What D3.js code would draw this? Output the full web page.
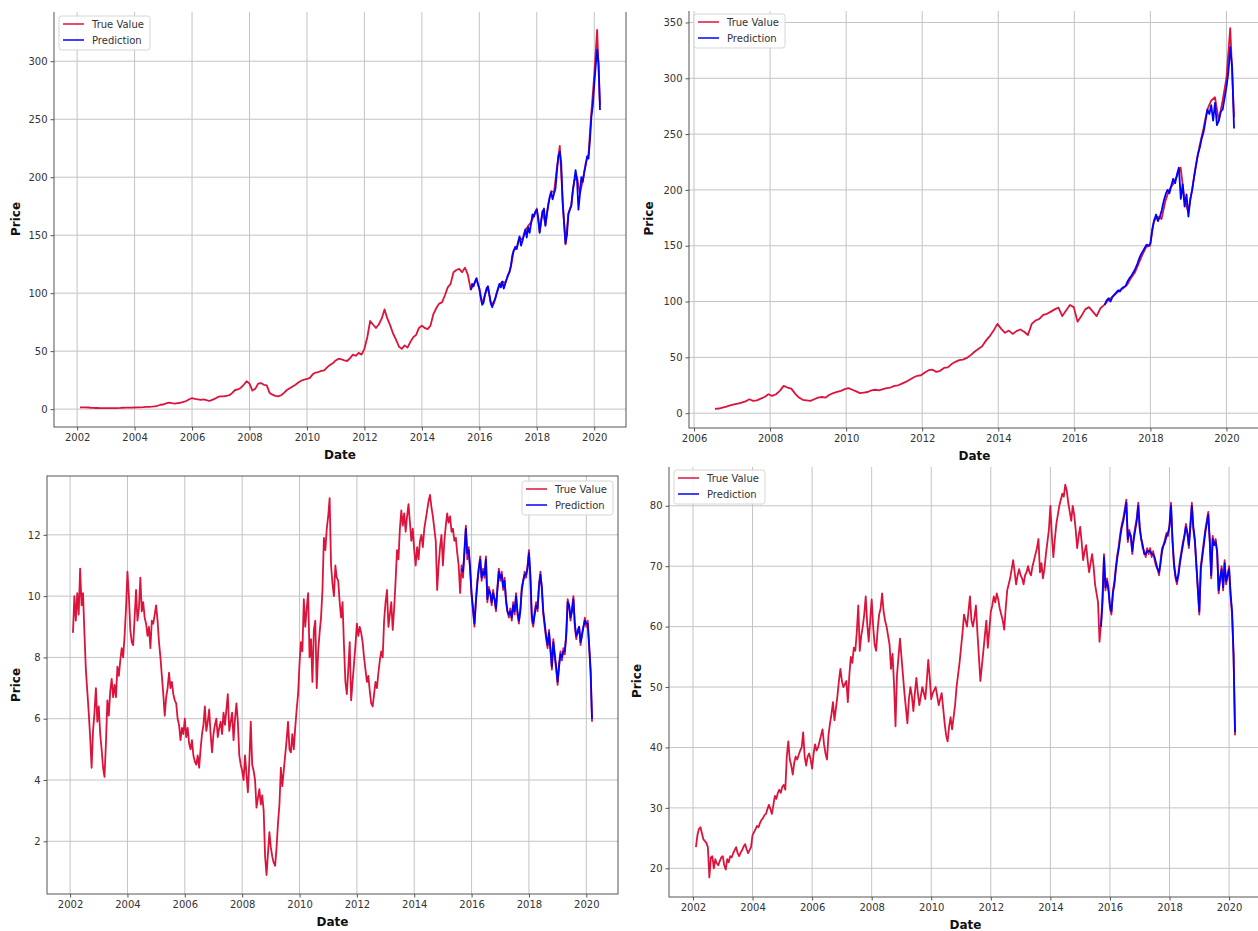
<!DOCTYPE html>
<html>
<head>
<meta charset="utf-8">
<script src="https://cdn.jsdelivr.net/npm/d3@7"></script>
<style>
  html, body { margin: 0; padding: 0; background: #fff; }
  svg { display: block; font-family: "DejaVu Sans", "Liberation Sans", sans-serif; }
</style>
</head>
<body>
<svg id="chart" width="1258" height="931"></svg>
<script>
// ---------------------------------------------------------------------------
// Price series (closing prices) and model predictions for four stocks.
// Each series is sampled on an even grid between its start and end year.
// ---------------------------------------------------------------------------

// Stock A: true prices 2002.1 -> 2020.2 (step 0.1 yr)
const aTrueSpan = [2002.1, 2020.2];
const aTrue = [
  1.5,1.6,1.5,1.4,1.1,1.0,1.0,0.9,0.9,0.9,
  0.9,0.9,0.9,0.9,1.0,1.2,1.3,1.3,1.3,1.4,
  1.5,1.6,1.7,1.9,2.0,2.1,2.4,2.9,3.8,4.0,
  5.0,5.6,5.1,4.8,5.2,5.5,6.2,7.0,8.5,9.5,
  8.8,8.4,8.0,8.5,7.8,7.0,8.0,9.0,10.5,11.0,
  11.0,11.5,12.0,14.0,16.5,17.0,18.5,21.0,24.0,22.0,
  16.0,17.5,22.0,22.5,21.0,20.5,14.0,12.5,11.5,11.0,
  12.0,14.0,16.5,18.0,19.5,21.0,23.0,24.5,25.5,26.0,
  27.0,30.0,31.5,32.0,33.0,33.5,36.0,38.0,39.5,42.0,
  43.5,43.0,42.0,41.5,44.0,47.0,46.0,48.5,47.0,52.0,
  62.0,76.0,73.0,70.0,73.0,78.0,86.0,78.0,72.0,65.0,
  60.0,54.0,52.0,55.0,53.0,58.0,62.0,64.0,70.0,72.0,
  70.0,69.0,72.0,82.0,87.0,91.0,92.0,98.0,105.0,108.0,
  118.0,120.0,121.0,118.0,122.0,116.0,103.0,107.0,112.0,104.0,
  91.0,99.0,105.0,92.0,91.0,99.0,107.0,110.0,109.0,115.0,
  123.0,137.0,139.0,148.0,146.0,154.0,158.0,161.0,167.0,173.0,
  153.0,171.0,159.0,177.0,188.0,187.0,208.0,227.0,180.0,142.0,
  169.0,176.0,197.0,200.0,186.0,197.0,212.0,220.0,256.0,288.0,
  327.0,262.0
];
// Stock A: predictions 2015.7 -> 2020.2 (step 0.05 yr)
const aPredSpan = [2015.7, 2020.2];
const aPred = [
  103,108,106,110,113,108,104,96,90,92,
  99,104,106,98,91,88,92,95,100,104,
  108,105,110,104,108,112,116,118,124,133,
  137,140,138,144,149,141,145,150,155,148,
  157,152,160,168,166,170,172,165,152,162,
  170,173,158,168,176,183,187,181,186,190,
  205,218,222,212,178,160,143,150,168,172,
  175,188,196,206,198,172,185,200,196,204,
  210,218,216,232,252,262,280,296,310,298,
  258
];

// Stock B: true prices 2006.55 -> 2020.2 (step ~0.1 yr)
const bTrueSpan = [2006.55, 2020.2];
const bTrue = [
  3.8,4.2,5.0,5.8,7.0,
  8.0,8.5,9.5,10.5,12.5,11.0,11.5,13.0,14.5,17.0,
  15.5,17.0,20.0,24.5,23.0,22.0,17.5,14.0,12.0,11.5,
  11.0,12.5,14.0,14.5,14.0,16.5,18.0,19.0,20.0,21.5,
  22.5,21.0,19.5,18.0,18.5,19.0,20.5,21.0,20.5,21.5,
  22.5,23.0,24.5,25.0,26.5,28.0,30.0,32.0,33.5,34.0,
  36.5,38.5,39.0,37.0,38.0,40.5,41.0,44.0,46.0,47.5,
  48.0,49.5,52.0,55.0,57.5,60.0,65.0,69.0,74.0,80.0,
  75.5,72.0,74.0,71.0,73.5,75.0,73.0,70.0,80.0,83.0,
  84.5,88.0,89.0,91.0,93.0,94.5,87.0,92.0,97.0,95.0,
  82.0,87.0,93.0,95.0,91.0,87.0,94.0,97.0,101.0,104.0,
  107.0,110.0,112.0,115.0,121.0,126.0,134.0,142.0,149.0,150.0,
  172.0,176.0,174.0,190.0,200.0,205.0,212.0,220.0,192.0,180.0,
  200.0,222.0,240.0,255.0,272.0,280.0,283.0,262.0,280.0,300.0,
  345.0,265.0
];
// Stock B: predictions 2016.8 -> 2020.2 (step 0.05 yr)
const bPredSpan = [2016.8, 2020.2];
const bPred = [
  97,101,103,100,104,106,108,110,109,112,
  113,114,118,121,123,126,129,133,138,142,
  145,148,151,150,152,165,173,178,172,176,
  182,190,196,200,197,204,210,206,214,220,
  192,205,185,196,176,192,200,212,222,232,
  238,246,252,262,272,268,276,262,278,258,
  262,270,272,282,292,305,328,310,255
];

// Stock C: true prices 2002.1 -> 2020.2 (step 0.05 yr)
const cTrueSpan = [2002.1, 2020.2];
const cTrue = [
  8.8,10.0,9.2,10.1,9.4,10.9,9.7,10.1,8.8,7.6,6.9,6.2,5.4,4.4,5.6,6.2,7.0,5.9,
  6.4,5.5,5.0,4.4,4.1,5.2,6.6,6.1,6.9,7.3,6.7,7.1,6.7,7.7,7.4,7.9,8.3,8.0,8.7,9.6,
  10.8,10.0,8.9,8.5,8.4,9.3,10.2,9.2,9.6,10.6,9.5,9.8,9.3,9.1,8.7,9.0,8.3,9.2,9.1,9.4,
  9.7,9.2,8.5,8.0,7.4,6.8,6.1,6.7,7.0,7.5,7.0,7.2,6.8,6.6,6.5,6.0,5.8,5.3,5.7,5.5,
  6.0,5.4,5.7,5.2,5.0,5.3,4.8,4.6,4.5,4.8,4.4,5.0,5.5,5.8,6.4,5.6,5.9,6.3,5.5,4.9,
  5.5,5.8,6.0,5.4,5.7,5.9,5.5,6.2,5.8,6.3,6.8,5.6,5.9,6.2,5.3,6.0,6.5,5.9,4.8,4.5,
  4.3,4.0,4.8,4.2,3.6,4.6,5.9,4.5,4.3,4.0,3.1,3.4,3.7,3.2,3.5,3.0,1.5,0.9,1.6,2.3,
  1.8,1.5,1.3,1.2,1.8,2.6,3.2,4.4,3.8,4.3,4.8,5.3,5.9,5.0,4.9,5.5,5.0,5.7,6.3,6.8,
  7.8,8.5,8.2,9.9,9.0,9.6,10.1,8.0,8.6,7.2,8.9,9.2,7.0,8.2,8.8,9.3,10.2,11.9,11.5,12.2,
  12.6,13.2,11.0,10.4,10.0,11.0,10.6,10.5,9.8,9.3,9.8,8.4,7.2,6.8,7.6,8.5,6.6,7.2,7.8,8.4,
  9.1,8.7,9.0,8.8,8.5,8.0,7.6,7.2,7.4,6.9,6.5,6.4,6.8,7.2,7.0,7.5,7.9,8.2,8.0,9.2,
  9.8,10.2,9.0,9.4,9.8,8.9,9.6,10.5,11.5,11.2,12.2,12.8,12.3,12.7,12.1,12.6,13.0,12.4,11.8,12.2,
  11.5,11.0,11.6,11.2,11.8,12.0,11.6,12.2,12.5,12.8,13.1,13.3,12.9,12.6,12.2,11.8,10.2,11.0,11.6,12.0,
  11.0,11.8,12.3,12.7,12.4,12.6,12.1,12.2,11.8,11.9,11.4,11.0,10.1,11.0,10.6,11.5,12.3,11.2,11.6,10.8,
  10.0,9.5,9.0,9.9,10.5,10.9,11.3,10.5,10.9,10.6,11.3,9.8,10.3,10.1,9.7,10.2,9.9,9.5,10.3,10.9,
  10.5,10.8,10.2,10.6,9.8,9.5,9.3,9.6,9.2,9.8,9.4,10.1,9.4,9.1,9.6,10.3,10.5,10.8,10.6,11.0,
  11.5,10.5,9.2,9.0,9.5,9.8,9.5,10.4,10.8,10.2,9.4,9.0,8.6,8.3,8.9,8.2,7.6,8.6,8.0,7.6,
  7.1,7.8,8.2,7.9,8.3,8.1,8.8,9.9,9.7,9.2,9.6,10.0,9.0,8.6,8.9,9.0,8.4,8.8,9.0,9.3,
  9.0,9.2,8.3,7.5,5.9
];
// Stock C: predictions 2015.65 -> 2020.2 (step 0.05 yr)
const cPredSpan = [2015.65, 2020.2];
const cPred = [
  10.9,10.8,11.4,12.2,11.4,11.5,10.9,
  10.1,9.6,9.1,9.8,10.4,10.9,11.2,10.6,10.8,10.7,11.2,9.9,10.2,10.1,9.8,10.1,9.9,9.6,10.2,10.8,
  10.6,10.7,10.3,10.5,9.9,9.5,9.4,9.5,9.3,9.7,9.5,10.0,9.5,9.2,9.5,10.2,10.5,10.7,10.7,10.9,
  11.4,10.7,9.4,9.1,9.4,9.7,9.6,10.3,10.7,10.3,9.5,9.1,8.7,8.4,8.8,8.3,7.7,8.5,8.1,7.7,
  7.2,7.7,8.1,8.0,8.2,8.2,8.7,9.8,9.7,9.3,9.5,9.9,9.1,8.7,8.8,9.0,8.5,8.7,9.0,9.2,
  9.1,9.1,8.4,7.6,6.0
];

// Stock D: true prices 2002.1 -> 2020.2 (step 0.05 yr)
const dTrueSpan = [2002.1, 2020.2];
const dTrue = [
  23.5,25.5,26.5,26.8,25.8,24.8,24.5,24.2,23.5,18.5,21.8,22.0,20.0,21.5,20.8,20.5,21.2,21.8,
  22.0,20.5,19.8,21.5,21.0,22.0,21.8,22.5,23.0,23.5,22.5,22.0,22.6,23.0,23.6,24.0,23.2,22.5,23.0,23.5,
  25.5,26.0,26.5,27.0,26.8,27.5,28.0,28.3,28.8,29.0,29.8,30.5,29.8,29.0,30.5,32.0,31.5,32.5,33.0,32.5,
  33.5,33.8,33.0,38.5,41.0,38.0,37.0,35.5,37.5,38.5,38.0,38.8,39.5,40.0,42.5,38.5,37.0,38.5,39.0,38.0,
  36.5,39.0,40.5,39.5,40.0,41.0,42.0,43.0,40.5,39.0,38.0,42.0,44.0,45.5,47.5,44.5,46.5,48.5,51.0,53.0,
  51.0,50.0,50.5,51.0,47.5,52.0,55.0,54.0,56.5,56.0,59.0,63.5,56.0,58.5,60.0,62.0,65.0,60.5,57.5,61.0,
  64.5,60.0,57.0,56.0,59.5,62.0,63.0,65.5,62.5,61.0,60.0,58.5,57.0,53.0,55.5,50.5,43.5,52.0,55.0,58.0,
  55.0,52.0,49.0,46.5,44.0,48.0,50.0,48.5,46.0,49.0,51.5,49.0,47.0,48.5,50.0,49.0,48.0,51.0,54.5,51.5,
  48.0,49.0,49.5,50.0,48.5,47.0,48.0,49.0,46.5,44.0,42.0,41.0,43.5,45.0,43.0,45.0,47.0,50.0,52.0,54.0,
  56.5,59.0,62.0,61.0,60.0,62.5,65.0,61.0,60.0,61.5,63.5,59.0,55.0,51.0,53.5,56.0,58.5,61.0,56.5,59.5,
  62.5,63.5,65.0,64.0,65.5,64.5,63.0,62.0,61.0,59.5,63.0,66.0,67.0,68.0,69.5,71.0,69.0,67.0,68.5,69.5,
  68.5,68.0,67.0,68.5,69.0,70.0,69.0,68.5,70.0,71.0,72.0,73.0,74.5,69.0,70.5,68.0,69.5,72.0,74.0,76.0,
  80.0,75.0,71.5,74.5,77.0,78.5,80.0,81.0,82.0,81.5,83.5,82.5,80.5,79.0,77.5,80.0,78.5,76.0,73.0,75.0,
  76.5,74.0,71.0,72.5,73.5,71.0,69.0,70.5,72.0,70.0,67.0,65.5,64.0,57.5,60.5,65.0,72.0,66.0,68.0,66.5,
  63.0,62.0,66.0,67.5,70.0,72.0,73.5,75.5,77.0,78.0,79.5,81.0,74.0,76.0,75.0,72.0,75.0,76.5,78.0,80.5,
  76.0,74.5,73.0,72.5,71.5,73.0,72.0,73.0,71.5,72.5,71.0,70.0,69.5,68.5,71.0,73.0,73.5,74.5,75.5,75.0,
  77.0,80.5,74.0,70.0,68.0,67.0,69.0,71.0,72.5,74.0,75.0,77.0,75.5,73.0,77.0,80.5,76.0,74.0,70.0,66.0,
  62.0,70.0,72.0,74.0,76.0,77.5,79.0,74.0,68.0,75.0,73.5,74.5,72.0,65.5,68.0,70.0,66.0,71.0,67.0,68.5,
  70.0,65.0,62.0,55.0,42.0
];
// Stock D: predictions 2015.7 -> 2020.2 (step 0.05 yr)
const dPredSpan = [2015.7, 2020.2];
const dPred = [
  60.0,64.0,71.5,66.5,67.5,66.0,
  63.5,62.5,65.5,67.0,69.5,71.5,73.0,75.0,76.5,77.5,79.0,80.5,74.5,75.5,75.0,72.5,74.5,76.0,77.5,80.0,
  76.5,74.5,73.5,72.0,72.0,72.5,72.5,72.5,72.0,72.0,71.5,70.5,69.5,69.0,70.5,72.5,73.5,74.0,75.0,75.5,
  76.5,80.0,74.5,70.5,68.5,67.5,68.5,70.5,72.0,73.5,75.0,76.5,75.5,73.5,76.5,80.0,76.5,74.5,70.5,66.5,
  62.5,69.5,71.5,73.5,75.5,77.0,78.5,74.5,68.5,74.5,73.5,74.0,72.5,66.0,68.0,69.5,66.5,70.5,67.5,68.5,
  69.5,65.5,62.5,55.5,42.5
];

// Tick values
const yearTicksFrom2002 = [2002, 2004, 2006, 2008, 2010, 2012, 2014, 2016, 2018, 2020];
const yearTicksFrom2006 = [2006, 2008, 2010, 2012, 2014, 2016, 2018, 2020];
const aPriceTicks = [0, 50, 100, 150, 200, 250, 300];
const bPriceTicks = [0, 50, 100, 150, 200, 250, 300, 350];
const cPriceTicks = [2, 4, 6, 8, 10, 12];
const dPriceTicks = [20, 30, 40, 50, 60, 70, 80];

const legendLabels = ["True Value", "Prediction"];
const axisTitles = { x: "Date", y: "Price" };

// ---------------------------------------------------------------------------
// Layout: each panel sits in its own tile; axes rectangles may run past the tile.
// ---------------------------------------------------------------------------
const COLORS = { truth: "#dc143c", pred: "#0000ff", grid: "#c4c4c4", spine: "#555", tick: "#333" };

const panels = [
  { id: "pa", truth: aTrue, truthSpan: aTrueSpan, pred: aPred, predSpan: aPredSpan,
    xTicks: yearTicksFrom2002, yTicks: aPriceTicks,
    tile: { x0: 0, y0: 12, x1: 629, y1: 463 },
    axes: { left: 54, right: 626, top: 11, bottom: 427 },
    legend: "left", yTitleX: 16 },
  { id: "pb", truth: bTrue, truthSpan: bTrueSpan, pred: bPred, predSpan: bPredSpan,
    xTicks: yearTicksFrom2006, yTicks: bPriceTicks,
    tile: { x0: 629, y0: 11, x1: 1258, y1: 462 },
    axes: { left: 689, right: 1260, top: 9, bottom: 428 },
    legend: "left", yTitleX: 649 },
  { id: "pc", truth: cTrue, truthSpan: cTrueSpan, pred: cPred, predSpan: cPredSpan,
    xTicks: yearTicksFrom2002, yTicks: cPriceTicks,
    tile: { x0: 0, y0: 466, x1: 629, y1: 931 },
    axes: { left: 47, right: 618, top: 476, bottom: 894 },
    legend: "right", yTitleX: 16 },
  { id: "pd", truth: dTrue, truthSpan: dTrueSpan, pred: dPred, predSpan: dPredSpan,
    xTicks: yearTicksFrom2002, yTicks: dPriceTicks,
    tile: { x0: 629, y0: 467, x1: 1258, y1: 931 },
    axes: { left: 669, right: 1262, top: 465, bottom: 897 },
    legend: "left", yTitleX: 637 }
];

const svg = d3.select("#chart");
const defs = svg.append("defs");

// Spread a value list evenly over its time span.
function toPoints(values, span) {
  const [t0, t1] = span;
  const n = values.length - 1;
  return values.map((v, i) => ({ t: t0 + (t1 - t0) * i / n, v }));
}

// Extent with 5% margins on each side.
function padded(lo, hi) {
  const m = (hi - lo) * 0.05;
  return [lo - m, hi + m];
}

function drawPanel(p) {
  const truthPts = toPoints(p.truth, p.truthSpan);
  const predPts = toPoints(p.pred, p.predSpan);
  const all = truthPts.concat(predPts);

  const x = d3.scaleLinear()
    .domain(padded(d3.min(all, d => d.t), d3.max(all, d => d.t)))
    .range([p.axes.left, p.axes.right]);
  const y = d3.scaleLinear()
    .domain(padded(d3.min(all, d => d.v), d3.max(all, d => d.v)))
    .range([p.axes.bottom, p.axes.top]);

  defs.append("clipPath").attr("id", p.id + "-tile")
    .append("rect")
    .attr("x", p.tile.x0).attr("y", p.tile.y0)
    .attr("width", p.tile.x1 - p.tile.x0).attr("height", p.tile.y1 - p.tile.y0);

  const g = svg.append("g").attr("clip-path", `url(#${p.id}-tile)`);
  const a = p.axes;

  // Grid
  const grid = g.append("g").attr("stroke", COLORS.grid).attr("stroke-width", 1);
  grid.selectAll("line.vx").data(p.xTicks).join("line")
    .attr("class", "vx")
    .attr("x1", d => x(d)).attr("x2", d => x(d))
    .attr("y1", a.top).attr("y2", a.bottom);
  grid.selectAll("line.hy").data(p.yTicks).join("line")
    .attr("class", "hy")
    .attr("x1", a.left).attr("x2", a.right)
    .attr("y1", d => y(d)).attr("y2", d => y(d));

  // Series
  const line = d3.line().x(d => x(d.t)).y(d => y(d.v));
  g.append("path").datum(truthPts)
    .attr("d", line).attr("fill", "none")
    .attr("stroke", COLORS.truth).attr("stroke-width", 1.8)
    .attr("stroke-linejoin", "round");
  g.append("path").datum(predPts)
    .attr("d", line).attr("fill", "none")
    .attr("stroke", COLORS.pred).attr("stroke-width", 1.8)
    .attr("stroke-linejoin", "round");

  // Spines
  g.append("rect")
    .attr("x", a.left).attr("y", a.top)
    .attr("width", a.right - a.left).attr("height", a.bottom - a.top)
    .attr("fill", "none").attr("stroke", COLORS.spine).attr("stroke-width", 1);

  // Axes
  const xAxis = d3.axisBottom(x).tickValues(p.xTicks).tickFormat(d3.format("d"))
    .tickSize(3.5).tickPadding(3);
  const yAxis = d3.axisLeft(y).tickValues(p.yTicks).tickFormat(d3.format("d"))
    .tickSize(3.5).tickPadding(3);
  const styleAxis = sel => {
    sel.select(".domain").remove();
    sel.selectAll(".tick line").attr("stroke", COLORS.spine);
    sel.selectAll(".tick text").attr("fill", COLORS.tick)
      .style("font-size", "10px").style("font-family", "DejaVu Sans, sans-serif");
  };
  g.append("g").attr("transform", `translate(0,${a.bottom})`).call(xAxis).call(styleAxis);
  g.append("g").attr("transform", `translate(${a.left},0)`).call(yAxis).call(styleAxis);

  // Axis titles
  g.append("text")
    .attr("x", (a.left + a.right) / 2).attr("y", a.bottom + 32)
    .attr("text-anchor", "middle")
    .style("font-size", "12px").style("font-weight", "bold").attr("fill", "#111")
    .text(axisTitles.x);
  g.append("text")
    .attr("transform", `translate(${p.yTitleX},${(a.top + a.bottom) / 2}) rotate(-90)`)
    .attr("text-anchor", "middle").attr("dominant-baseline", "central")
    .style("font-size", "12px").style("font-weight", "bold").attr("fill", "#111")
    .text(axisTitles.y);

  // Legend
  const lw = 91, lh = 34;
  const lx = p.legend === "left" ? a.left + 5 : a.right - 5 - lw;
  const ly = a.top + 5;
  const lg = g.append("g").attr("transform", `translate(${lx},${ly})`);
  lg.append("rect").attr("width", lw).attr("height", lh).attr("rx", 2.5)
    .attr("fill", "#fff").attr("fill-opacity", 0.85)
    .attr("stroke", "#d6d6d6").attr("stroke-width", 1);
  const entries = [
    { label: legendLabels[0], color: COLORS.truth },
    { label: legendLabels[1], color: COLORS.pred }
  ];
  const row = lg.selectAll("g.entry").data(entries).join("g")
    .attr("class", "entry")
    .attr("transform", (d, i) => `translate(0,${8 + i * 16})`);
  row.append("line").attr("x1", 4).attr("x2", 25).attr("y1", 0).attr("y2", 0)
    .attr("stroke", d => d.color).attr("stroke-width", 2).attr("stroke-opacity", 0.75);
  row.append("text").attr("x", 33).attr("y", 0).attr("dominant-baseline", "central")
    .style("font-size", "10px").attr("fill", "#333").text(d => d.label);
}

panels.forEach(drawPanel);
</script>
</body>
</html>
